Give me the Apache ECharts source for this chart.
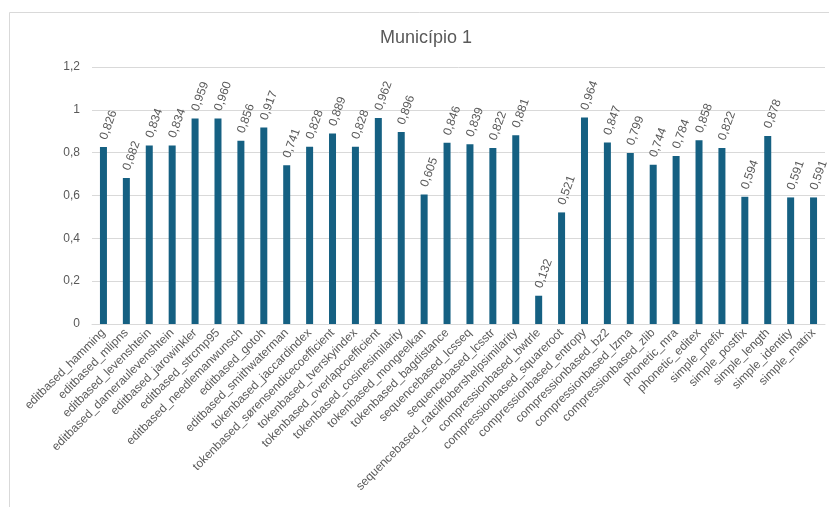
<!DOCTYPE html>
<html>
<head>
<meta charset="utf-8">
<script src="https://cdn.jsdelivr.net/npm/echarts@6/dist/echarts.min.js"></script>
<style>
html,body{margin:0;padding:0;background:#fff;}
#chart{width:829px;height:507px;}
</style>
</head>
<body>
<div id="chart"></div>
<script>
var titleText = "Município 1";
var categories = [
  "editbased_hamming","editbased_mlipns","editbased_levenshtein","editbased_dameraulevenshtein",
  "editbased_jarowinkler","editbased_strcmp95","editbased_needlemanwunsch","editbased_gotoh",
  "editbased_smithwaterman","tokenbased_jaccardindex","tokenbased_sørensendicecoefficient",
  "tokenbased_tverskyindex","tokenbased_overlapcoefficient","tokenbased_cosinesimilarity",
  "tokenbased_mongeelkan","tokenbased_bagdistance","sequencebased_lcsseq","sequencebased_lcsstr",
  "sequencebased_ratcliffobershelpsimilarity","compressionbased_bwtrle","compressionbased_squareroot",
  "compressionbased_entropy","compressionbased_bz2","compressionbased_lzma","compressionbased_zlib",
  "phonetic_mra","phonetic_editex","simple_prefix","simple_postfix","simple_length",
  "simple_identity","simple_matrix"
];
var values = [
  0.826,0.682,0.834,0.834,0.959,0.960,0.856,0.917,0.741,0.828,0.889,0.828,0.962,0.896,0.605,0.846,
  0.839,0.822,0.881,0.132,0.521,0.964,0.847,0.799,0.744,0.784,0.858,0.822,0.594,0.878,0.591,0.591
];
var yTicks = [0,0.2,0.4,0.6,0.8,1,1.2];

var chart = echarts.init(document.getElementById('chart'), null, {renderer:'canvas'});
var font = '"Liberation Sans", Arial, sans-serif';
chart.setOption({
  backgroundColor:'#ffffff',
  animation:false,
  graphic:[{
    type:'rect', shape:{x:9.5,y:12.5,width:840,height:520},
    style:{fill:'none', stroke:'#d9d9d9', lineWidth:1}, silent:true
  },{
    type:'text', x:426, y:38, silent:true,
    style:{text:titleText, fontFamily:font, fontSize:18, fill:'#595959', textAlign:'center', textVerticalAlign:'middle'}
  }],
  grid:{left:92, right:4, top:67, bottom:183, containLabel:false},
  xAxis:{
    type:'category', data:categories,
    axisLine:{lineStyle:{color:'#d9d9d9', width:1}},
    axisTick:{show:false},
    axisLabel:{interval:0, rotate:45, fontFamily:font, fontSize:12, color:'#595959', margin:7}
  },
  yAxis:{
    type:'value', min:0, max:1.2, interval:0.2,
    axisLine:{show:false}, axisTick:{show:false},
    splitLine:{lineStyle:{color:'#d9d9d9', width:1}},
    axisLabel:{fontFamily:font, fontSize:12, color:'#595959', margin:12,
      formatter:function(v){ var t = yTicks.reduce(function(a,b){return Math.abs(b-v)<Math.abs(a-v)?b:a;}); return String(t).replace('.',','); }}
  },
  series:[{
    type:'bar', data:values, barWidth:7,
    itemStyle:{color:'#156082'},
    label:{
      show:true, position:'top', distance:8, rotate:70, align:'left', verticalAlign:'middle',
      fontFamily:font, fontSize:12, color:'#595959',
      formatter:function(p){ return p.value.toFixed(3).replace('.',','); }
    }
  }]
});
</script>
</body>
</html>
